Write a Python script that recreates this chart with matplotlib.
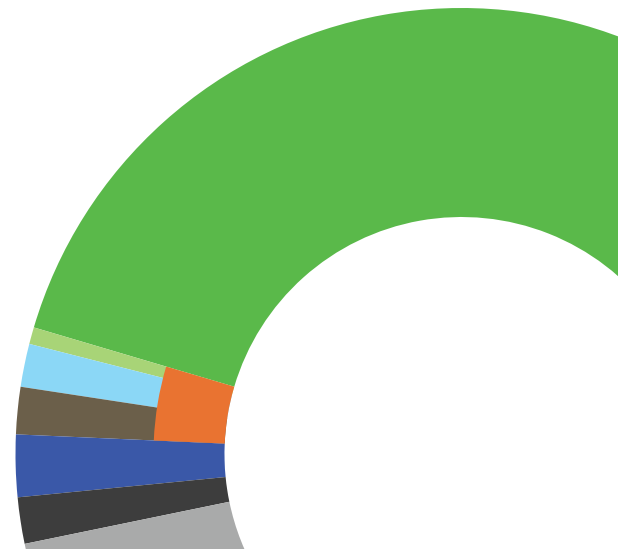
import matplotlib
matplotlib.use("Agg")
import matplotlib.pyplot as plt

# Outer ring (leaf level), percentages of the full circle, counter-clockwise from the bottom
outer_labels = ["Green", "Light green", "Light blue", "Brown", "Blue", "Dark gray", "Gray"]
outer_values = [70.42, 0.61, 1.56, 1.71, 2.25, 1.68, 21.77]
outer_colors = ["#5ab94a", "#a8d477", "#8bd7f6", "#6b5f4a", "#3a58a8", "#3d3d3d", "#a9aaaa"]

# Inner ring (parent level); only the orange parent differs from its children
inner_labels = ["Green", "Orange", "Blue", "Dark gray", "Gray"]
inner_values = [70.42, 3.88, 2.25, 1.68, 21.77]
inner_colors = ["none", "#e97331", "none", "none", "none"]

W, H = 618, 549
fig = plt.figure(figsize=(W / 100, H / 100), dpi=100)
ax = fig.add_axes([0, 0, 1, 1])

cx, cy = 461.5, H - 454
R_out, R_mid, R_in = 446, 308, 237

ax.pie(outer_values, colors=outer_colors, startangle=-90, counterclock=True,
       radius=R_out, center=(cx, cy),
       wedgeprops=dict(width=R_out - R_in, linewidth=0, antialiased=True))
ax.pie(inner_values, colors=inner_colors, startangle=-90, counterclock=True,
       radius=R_mid, center=(cx, cy),
       wedgeprops=dict(width=R_mid - R_in, linewidth=0, antialiased=True))

ax.set_xlim(0, W)
ax.set_ylim(0, H)
ax.set_aspect("equal")
ax.axis("off")
fig.savefig("out.png", dpi=100)
